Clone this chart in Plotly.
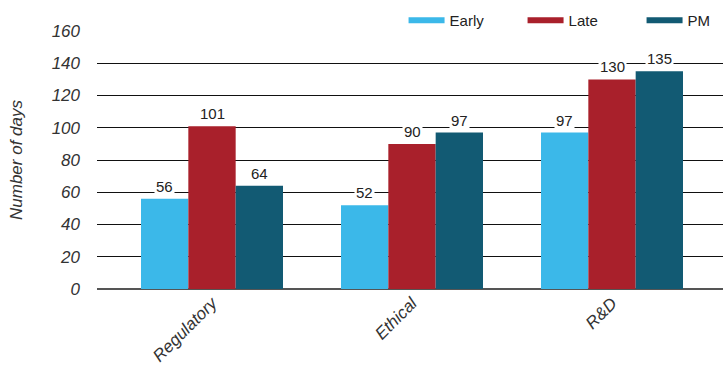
import plotly.graph_objects as go

categories = ["Regulatory", "Ethical", "R&D"]
series_names = ["Early", "Late", "PM"]
early = [56, 52, 97]
late = [101, 90, 130]
pm = [64, 97, 135]
colors = ["#3BB8E9", "#A9202B", "#125A73"]
y_ticks = [0, 20, 40, 60, 80, 100, 120, 140, 160]

values = [early, late, pm]
font_family = "Liberation Sans, Arial, sans-serif"

fig = go.Figure()
for name, vals, col in zip(series_names, values, colors):
    fig.add_trace(go.Bar(x=categories, y=vals, name=name, marker_color=col,
                         marker_line_width=0, showlegend=False))
# legend proxies (wide swatches)
for name, col in zip(series_names, colors):
    fig.add_trace(go.Scatter(x=[None], y=[None], mode="lines", name=name,
                             line=dict(color=col, width=6)))

annotations = []
bar_px = 47.3
for si, (vals, col) in enumerate(zip(values, colors)):
    for ci, v in enumerate(vals):
        annotations.append(dict(x=categories[ci], y=v, text=str(v), showarrow=False,
                                xref="x", yref="y", yanchor="bottom",
                                xshift=(si - 1) * bar_px, yshift=2,
                                bgcolor="white", borderpad=1,
                                font=dict(size=15, color="#222", family=font_family)))

tick_font = dict(size=17, color="#333", family=font_family, style="italic")

fig.update_layout(
    width=723, height=372,
    margin=dict(l=97, r=0, t=31, b=83, autoexpand=False),
    paper_bgcolor="white", plot_bgcolor="white",
    barmode="group", bargap=0.29, bargroupgap=0,
    font=dict(family=font_family, color="#333"),
    annotations=annotations,
    legend=dict(orientation="h", x=1.06, xanchor="right", y=1.105, yanchor="top",
                bgcolor="white", itemwidth=36, entrywidth=68,
                font=dict(size=15, color="#222", family=font_family)),
    xaxis=dict(range=[-0.575, 2.555], tickangle=-45, showgrid=False, showline=False,
               ticks="", tickfont=tick_font, automargin=False),
    yaxis=dict(range=[0, 160], tickvals=y_ticks, showgrid=True, gridcolor="#111",
               gridwidth=1.3, zeroline=True, zerolinecolor="#555", zerolinewidth=1.5,
               ticks="", ticklabelstandoff=16, tickfont=tick_font, automargin=False,
               title=dict(text="Number of days", standoff=24, font=tick_font)),
)
fig.write_html("out.html")
